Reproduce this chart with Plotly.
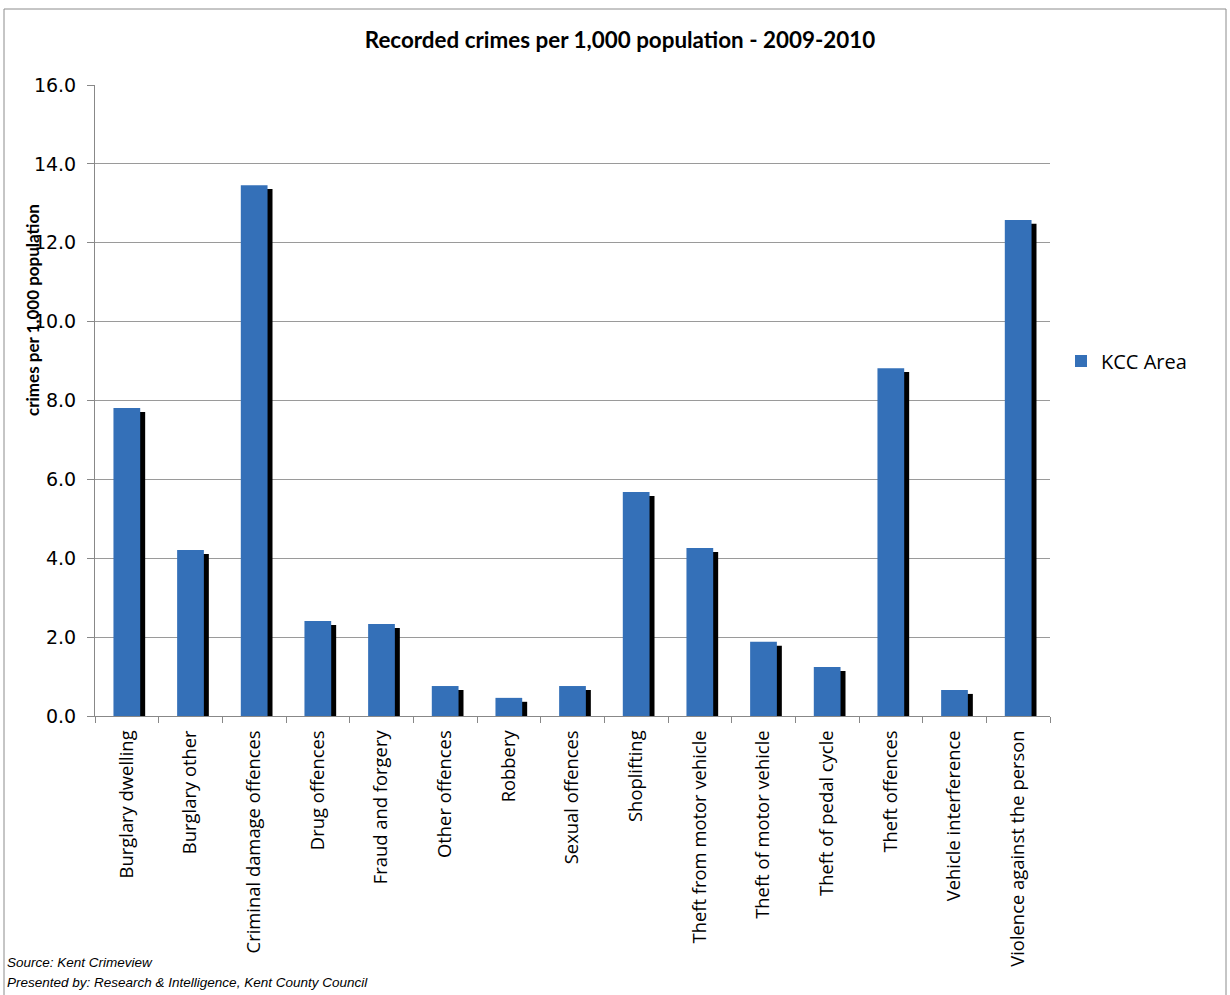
import plotly.graph_objects as go

# Recorded crimes per 1,000 population, KCC Area, 2009-2010
categories = [
    "Burglary dwelling", "Burglary other", "Criminal damage offences",
    "Drug offences", "Fraud and forgery", "Other offences", "Robbery",
    "Sexual offences", "Shoplifting", "Theft from motor vehicle",
    "Theft of motor vehicle", "Theft of pedal cycle", "Theft offences",
    "Vehicle interference", "Violence against the person",
]
kcc_area = [7.81, 4.21, 13.46, 2.41, 2.33, 0.76, 0.46, 0.76,
            5.68, 4.26, 1.88, 1.24, 8.82, 0.66, 12.58]

y_ticks = [0, 2, 4, 6, 8, 10, 12, 14, 16]

# Figure geometry (pixels)
W, H = 1230, 995
L, R, T, B = 95, 1050, 85, 716

BAR_W = 0.42
SHADOW_DX = 0.078          # shadow shift, in category units
SHADOW_DY = 0.10           # shadow drop, in data units

def px_x(x):
    return (x - L) / (R - L)

def px_y(y):
    return (B - y) / (B - T)

fig = go.Figure()

# drop shadow behind each bar
fig.add_trace(go.Bar(
    x=categories,
    y=[v - SHADOW_DY for v in kcc_area],
    width=BAR_W,
    offset=-BAR_W / 2 + SHADOW_DX,
    marker=dict(color="#000000", line=dict(width=0)),
    showlegend=False,
    hoverinfo="skip",
))

fig.add_trace(go.Bar(
    x=categories,
    y=kcc_area,
    name="KCC Area",
    width=BAR_W,
    offset=-BAR_W / 2,
    marker=dict(color="#3470B8", line=dict(width=0)),
))

fig.update_layout(
    width=W, height=H,
    margin=dict(l=L, r=W - R, t=T, b=H - B, pad=0),
    paper_bgcolor="white",
    plot_bgcolor="white",
    barmode="overlay",
    font=dict(family="Open Sans", color="black"),
    title=dict(
        text="<b>Recorded crimes per 1,000 population - 2009-2010</b>",
        x=620 / W, xref="container", xanchor="center",
        y=1 - 40 / H, yanchor="middle",
        font=dict(family="Lato", size=22.4, color="black"),
    ),
    legend=dict(
        x=px_x(1061), y=px_y(361), xanchor="left", yanchor="middle",
        font=dict(family="Open Sans", size=20, color="black"),
        bgcolor="rgba(0,0,0,0)",
        itemwidth=30,
    ),
    xaxis=dict(
        type="category",
        tickangle=-90,
        tickfont=dict(family="Open Sans", size=18.4, color="black"),
        ticks="outside", tickson="boundaries", ticklen=6,
        tickcolor="#888888",
        ticklabelstandoff=6,
        showline=True, linecolor="#888888", linewidth=1,
        showgrid=False,
        range=[-0.5, len(categories) - 0.5],
    ),
    yaxis=dict(
        range=[0, 16],
        tickvals=y_ticks,
        ticktext=[f"{v:.1f}" for v in y_ticks],
        tickfont=dict(family="DejaVu Sans", size=19, color="black"),
        ticks="outside", ticklen=7, tickcolor="#888888",
        ticklabelstandoff=7,
        showline=True, linecolor="#888888", linewidth=1,
        showgrid=True, gridcolor="#9A9A9A", gridwidth=1,
        zeroline=False,
    ),
    shapes=[
        dict(type="rect", xref="paper", yref="paper",
             x0=px_x(4), x1=px_x(1226), y0=px_y(9), y1=px_y(1010),
             line=dict(color="#8C8C8C", width=1), fillcolor="rgba(0,0,0,0)",
             layer="below"),
    ],
    annotations=[
        dict(text="<b>crimes per 1,000 population</b>",
             xref="paper", yref="paper", x=px_x(32), y=px_y(310),
             textangle=-90, showarrow=False, xanchor="center", yanchor="middle",
             font=dict(family="Lato", size=17, color="black")),
        dict(text="<i>Source: Kent Crimeview</i>",
             xref="paper", yref="paper", x=px_x(5), y=px_y(962),
             showarrow=False, xanchor="left", yanchor="middle",
             font=dict(family="Liberation Sans", size=13.5, color="black")),
        dict(text="<i>Presented by: Research &amp; Intelligence, Kent County Council</i>",
             xref="paper", yref="paper", x=px_x(5), y=px_y(982),
             showarrow=False, xanchor="left", yanchor="middle",
             font=dict(family="Liberation Sans", size=13.5, color="black")),
    ],
)

fig.write_html("out.html")
